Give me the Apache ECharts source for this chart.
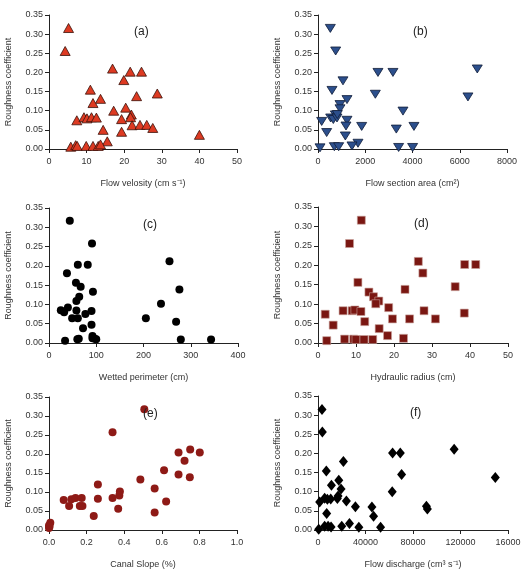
<!DOCTYPE html>
<html>
<head>
<meta charset="utf-8">
<script src="https://cdn.jsdelivr.net/npm/echarts@6/dist/echarts.min.js"></script>
<style>
  html, body { margin: 0; padding: 0; background: #fff; }
  #main { width: 531px; height: 570px; }
</style>
</head>
<body>
<div id="main"></div>
<script>
// (a) flow velocity vs roughness
const velocity = [5.2, 4.3, 16.9, 21.6, 24.6, 19.9, 11.0, 28.8, 13.7, 23.3, 11.7, 17.2, 20.4, 21.9, 21.7, 7.4, 9.3, 10.1, 11.3, 12.6, 19.3, 22.1, 24.2, 26.0, 27.6, 14.4, 19.3, 40.0, 15.5, 5.8, 7.1, 7.5, 9.9, 11.7, 13.1, 13.7]
const roughA = [0.316, 0.256, 0.210, 0.202, 0.202, 0.180, 0.155, 0.145, 0.131, 0.138, 0.120, 0.100, 0.108, 0.090, 0.083, 0.075, 0.083, 0.080, 0.083, 0.082, 0.078, 0.062, 0.063, 0.063, 0.055, 0.050, 0.045, 0.037, 0.020, 0.006, 0.010, 0.008, 0.008, 0.008, 0.008, 0.012]

// (b) flow section area
const sectionArea = [522, 748, 6742, 2539, 3173, 1058, 592, 2426, 6347, 1227, 931, 931, 3597, 733, 536, 649, 804, 818, 155, 1227, 1185, 1848, 4062, 3314, 367, 1157, 1693, 1439, 691, 875, 85, 3413, 4005]
const roughB = [0.315, 0.256, 0.209, 0.200, 0.200, 0.178, 0.153, 0.143, 0.136, 0.129, 0.116, 0.105, 0.099, 0.089, 0.081, 0.077, 0.081, 0.090, 0.072, 0.075, 0.060, 0.059, 0.059, 0.052, 0.043, 0.034, 0.015, 0.008, 0.006, 0.006, 0.003, 0.004, 0.004]

// (c) wetted perimeter
const perimeter = [44, 91, 255, 61, 82, 38, 57, 67, 276, 93, 64, 58, 237, 40, 25, 32, 58, 90, 77, 49, 61, 205, 269, 90, 72, 92, 63, 97, 100, 34, 279, 343, 60, 92]
const roughC = [0.317, 0.258, 0.212, 0.203, 0.203, 0.181, 0.156, 0.146, 0.139, 0.133, 0.120, 0.109, 0.102, 0.092, 0.085, 0.080, 0.084, 0.083, 0.075, 0.064, 0.064, 0.064, 0.055, 0.047, 0.038, 0.018, 0.011, 0.011, 0.010, 0.006, 0.009, 0.009, 0.010, 0.012]

// (d) hydraulic radius
const radius = [11.4, 8.3, 26.4, 38.6, 41.5, 27.6, 10.5, 36.1, 22.9, 13.4, 14.6, 16.0, 15.2, 18.6, 1.9, 6.6, 9.0, 9.7, 11.3, 27.9, 38.5, 19.6, 24.1, 30.9, 12.3, 4.0, 16.1, 18.3, 22.5, 2.3, 7.0, 9.4, 10.0, 12.1, 14.4]
const roughD = [0.316, 0.256, 0.210, 0.202, 0.202, 0.180, 0.156, 0.145, 0.138, 0.131, 0.119, 0.108, 0.101, 0.091, 0.074, 0.083, 0.083, 0.085, 0.081, 0.083, 0.077, 0.062, 0.062, 0.062, 0.055, 0.046, 0.037, 0.019, 0.012, 0.006, 0.010, 0.010, 0.009, 0.009, 0.009]

// (e) canal slope
const slope = [0.507, 0.338, 0.751, 0.689, 0.802, 0.721, 0.612, 0.689, 0.749, 0.486, 0.260, 0.562, 0.377, 0.374, 0.078, 0.119, 0.141, 0.174, 0.260, 0.338, 0.623, 0.107, 0.164, 0.178, 0.368, 0.562, 0.238, 0.007, 0.000, 0.000, 0.003]
const roughE = [0.318, 0.257, 0.212, 0.204, 0.204, 0.182, 0.157, 0.146, 0.139, 0.133, 0.120, 0.109, 0.101, 0.091, 0.079, 0.081, 0.084, 0.084, 0.082, 0.084, 0.075, 0.063, 0.063, 0.063, 0.056, 0.046, 0.037, 0.019, 0.012, 0.005, 0.009]

// (f) flow discharge
const discharge = [3380, 3660, 114650, 62800, 69300, 21400, 7000, 70400, 149300, 17500, 11300, 19400, 62500, 16900, 16300, 1400, 5600, 7900, 10700, 23900, 31500, 45400, 91300, 92100, 7300, 46800, 26500, 20000, 34400, 52700, 600, 5600, 8500, 11000]
const roughF = [0.315, 0.256, 0.211, 0.201, 0.201, 0.179, 0.154, 0.145, 0.137, 0.130, 0.117, 0.107, 0.100, 0.089, 0.082, 0.073, 0.083, 0.080, 0.081, 0.076, 0.061, 0.060, 0.062, 0.055, 0.043, 0.036, 0.017, 0.010, 0.007, 0.007, 0.002, 0.010, 0.010, 0.008]

const panelTitles = ['(a)', '(b)', '(c)', '(d)', '(e)', '(f)']
const xNames = ['Flow velosity (cm s\u207B\u00B9)', 'Flow section area (cm\u00B2)', 'Wetted perimeter (cm)', 'Hydraulic radius (cm)', 'Canal Slope (%)', 'Flow discharge (cm\u00B3 s\u207B\u00B9)']

const pair = (xs, ys) => xs.map((x, i) => [x, ys[i]])

const grids = [
    { left: 49, top: 15, width: 188, height: 134 },
    { left: 318, top: 15, width: 189, height: 134 },
    { left: 49, top: 208, width: 189, height: 135 },
    { left: 318, top: 207, width: 190, height: 136 },
    { left: 49, top: 397, width: 188, height: 134 },
    { left: 318, top: 396, width: 190, height: 135 },
]

const axisBase = {
    axisLine: { lineStyle: { color: '#222', width: 1 } },
    axisTick: { show: true, length: 4, lineStyle: { color: '#222' } },
    axisLabel: { color: '#333', fontSize: 9, fontFamily: 'Liberation Sans' },
    splitLine: { show: false },
    nameTextStyle: { color: '#333', fontSize: 9, fontFamily: 'Liberation Sans' },
}

// plain numbers, no thousands separator; the last discharge tick is cut to "16000" like the original
const xRanges = [
    { max: 50, interval: 10, fmt: v => String(v) },
    { max: 8000, interval: 2000, fmt: v => String(v) },
    { max: 400, interval: 100, fmt: v => String(v) },
    { max: 50, interval: 10, fmt: v => String(v) },
    { max: 1, interval: 0.2, fmt: v => v.toFixed(1) },
    { max: 160000, interval: 40000, fmt: v => (v === 160000 ? '16000' : String(v)) },
]

const xAxis = xRanges.map((r, i) => ({
    ...axisBase,
    type: 'value',
    gridIndex: i,
    min: 0,
    max: r.max,
    interval: r.interval,
    name: xNames[i],
    nameLocation: 'middle',
    nameGap: 30,
    axisLabel: { ...axisBase.axisLabel, margin: 8, formatter: r.fmt },
}))

const yAxis = grids.map((g, i) => ({
    ...axisBase,
    type: 'value',
    gridIndex: i,
    min: 0,
    max: 0.35,
    interval: 0.05,
    name: 'Roughness coefficient',
    nameLocation: 'middle',
    nameGap: 36,
    axisLabel: { ...axisBase.axisLabel, margin: 6, formatter: v => v.toFixed(2) },
}))

const title = panelTitles.map((t, i) => ({
    text: t,
    left: grids[i].left + [80, 90, 89, 91, 89, 87][i],
    top: grids[i].top + 6,
    textStyle: { fontSize: 12, fontWeight: 'normal', color: '#222', fontFamily: 'Liberation Sans' },
}))

const series = [
    { data: pair(velocity, roughA), symbol: 'triangle', symbolSize: [10, 9], itemStyle: { color: '#dd3a22', borderColor: '#3a120a', borderWidth: 0.8 } },
    { data: pair(sectionArea, roughB), symbol: 'path://M0,0L10,0L5,9Z', symbolSize: [10, 8], itemStyle: { color: '#2c4f8c', borderColor: '#101c38', borderWidth: 0.8 } },
    { data: pair(perimeter, roughC), symbol: 'circle', symbolSize: 8, itemStyle: { color: '#000' } },
    { data: pair(radius, roughD), symbol: 'rect', symbolSize: 8, itemStyle: { color: '#7a1712', borderColor: '#c9a39c', borderWidth: 0.6 } },
    { data: pair(slope, roughE), symbol: 'circle', symbolSize: 8, itemStyle: { color: '#8e1a16' } },
    { data: pair(discharge, roughF), symbol: 'diamond', symbolSize: [9, 11], itemStyle: { color: '#000' } },
].map((s, i) => ({
    ...s,
    type: 'scatter',
    xAxisIndex: i,
    yAxisIndex: i,
    itemStyle: { ...s.itemStyle, opacity: 1 },
    animation: false,
}))

const myChart = echarts.init(document.getElementById('main'))
const option = {
    backgroundColor: '#fff',
    animation: false,
    title,
    grid: grids,
    xAxis,
    yAxis,
    series,
}
option && myChart.setOption(option)
</script>
</body>
</html>
